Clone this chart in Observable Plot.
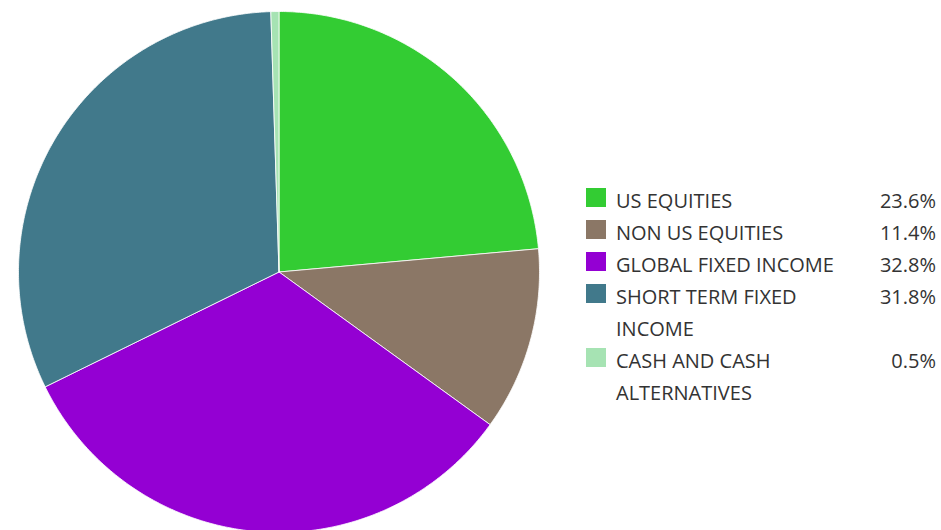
<!DOCTYPE html>
<html>
<head>
<meta charset="utf-8">
<script src="https://cdn.jsdelivr.net/npm/d3@7"></script>
<script src="https://cdn.jsdelivr.net/npm/@observablehq/plot@0.6"></script>
<style>
  html, body { margin: 0; padding: 0; background: #fff; }
  #wrap { position: relative; width: 941px; height: 530px; overflow: hidden; }
  #legend { position: absolute; left: 586px; top: 185px; width: 350px;
    font-family: "Open Sans", sans-serif; font-size: 20px; color: #333; }
  .row { display: flex; align-items: flex-start; }
  .sw { width: 20px; height: 19px; margin-top: 3px; margin-right: 10px; flex: none; }
  .lab { flex: 1; line-height: 32px; white-space: pre-line; }
  .pct { width: 80px; text-align: right; line-height: 32px; }
</style>
</head>
<body>
<div id="wrap">
  <div id="chart"></div>
  <div id="legend"></div>
</div>
<script>
const categories = ["US EQUITIES", "NON US EQUITIES", "GLOBAL FIXED INCOME", "SHORT TERM FIXED INCOME", "CASH AND CASH ALTERNATIVES"];
const legendLabels = ["US EQUITIES", "NON US EQUITIES", "GLOBAL FIXED INCOME", "SHORT TERM FIXED\nINCOME", "CASH AND CASH\nALTERNATIVES"];
const values = [23.6, 11.4, 32.8, 31.8, 0.5];
const colors = ["#33cc33", "#8b7766", "#9400d3", "#41798b", "#a6e3b3"];

// Build slice polygons from the values
const total = d3.sum(values);
const pts = [];
let acc = 0;
values.forEach((v, i) => {
  const a0 = acc / total * 2 * Math.PI;
  acc += v;
  const a1 = acc / total * 2 * Math.PI;
  const n = Math.max(2, Math.ceil((a1 - a0) / (Math.PI / 360)));
  pts.push({key: categories[i], x: 0, y: 0});
  for (let k = 0; k <= n; k++) {
    const t = a0 + (a1 - a0) * k / n;
    pts.push({key: categories[i], x: Math.sin(t), y: Math.cos(t)});
  }
  pts.push({key: categories[i], x: 0, y: 0});
});

const chart = Plot.plot({
  width: 941,
  height: 530,
  margin: 0,
  x: {domain: [-1, 1], range: [18, 539], axis: null},
  y: {domain: [-1, 1], range: [532, 11], axis: null},
  color: {domain: categories, range: colors},
  marks: [
    Plot.line(pts, {x: "x", y: "y", z: "key", fill: "key", stroke: "white", strokeWidth: 1, strokeOpacity: 0.8, curve: "linear"})
  ]
});
document.getElementById("chart").appendChild(chart);

const legend = document.getElementById("legend");
categories.forEach((c, i) => {
  const row = document.createElement("div");
  row.className = "row";
  const sw = document.createElement("div");
  sw.className = "sw";
  sw.style.background = colors[i];
  const lab = document.createElement("div");
  lab.className = "lab";
  lab.textContent = legendLabels[i];
  const pct = document.createElement("div");
  pct.className = "pct";
  pct.textContent = values[i].toFixed(1) + "%";
  row.append(sw, lab, pct);
  legend.appendChild(row);
});
</script>
</body>
</html>
